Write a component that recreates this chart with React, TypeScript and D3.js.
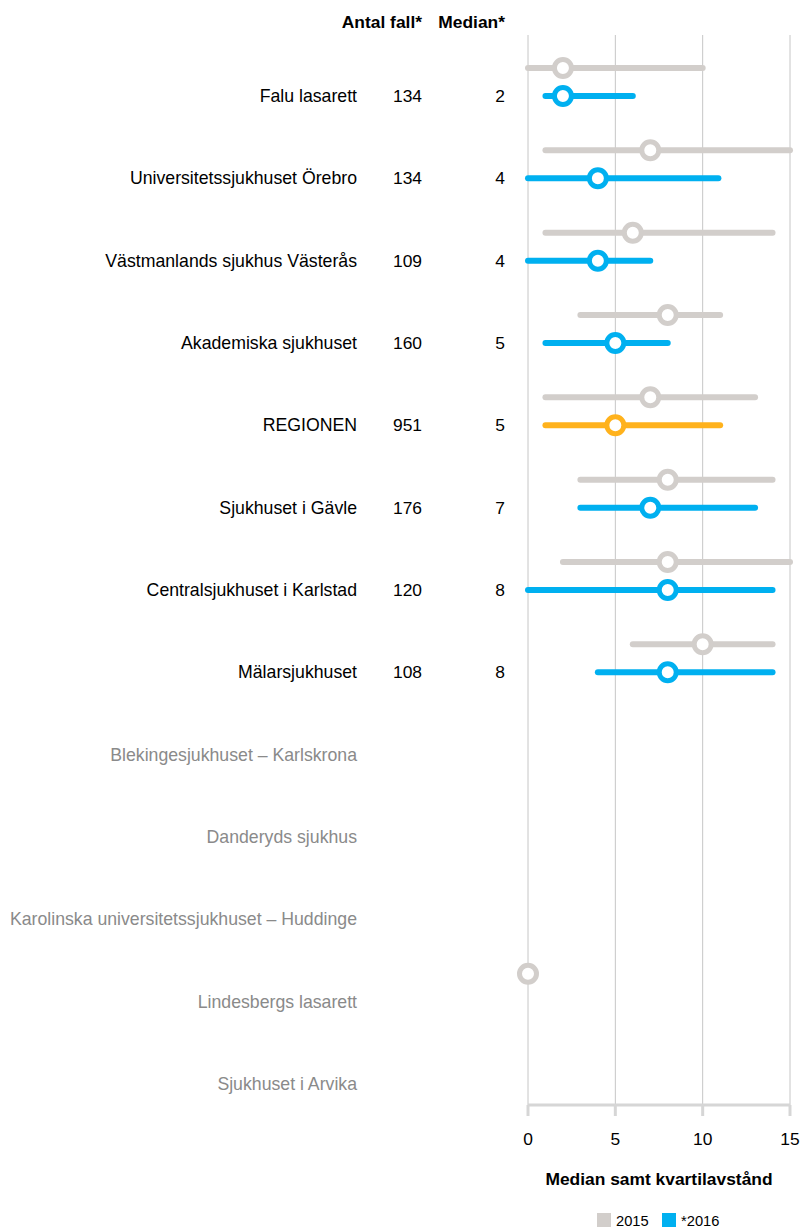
import React from 'react'
import * as d3 from 'd3'

const hospitals = [
  'Falu lasarett',
  'Universitetssjukhuset Örebro',
  'Västmanlands sjukhus Västerås',
  'Akademiska sjukhuset',
  'REGIONEN',
  'Sjukhuset i Gävle',
  'Centralsjukhuset i Karlstad',
  'Mälarsjukhuset',
  'Blekingesjukhuset – Karlskrona',
  'Danderyds sjukhus',
  'Karolinska universitetssjukhuset – Huddinge',
  'Lindesbergs lasarett',
  'Sjukhuset i Arvika',
]
const counts: (number | null)[] = [134, 134, 109, 160, 951, 176, 120, 108, null, null, null, null, null]
const medians: (number | null)[] = [2, 4, 4, 5, 5, 7, 8, 8, null, null, null, null, null]

// [q1, median, q3]
const stats2015: ([number, number, number] | null)[] = [
  [0, 2, 10], [1, 7, 15], [1, 6, 14], [3, 8, 11], [1, 7, 13], [3, 8, 14], [2, 8, 15], [6, 10, 14],
  null, null, null, [0, 0, 0], null,
]
const stats2016: ([number, number, number] | null)[] = [
  [1, 2, 6], [0, 4, 10.9], [0, 4, 7], [1, 5, 8], [1, 5, 11], [3, 7, 13], [0, 8, 14], [4, 8, 14],
  null, null, null, null, null,
]
const xTicks = [0, 5, 10, 15]

const GRAY = '#d2cecb'
const BLUE = '#00b0f0'
const ORANGE = '#ffb21c'
const FONT = 'Liberation Sans, Arial, sans-serif'
const FS = 17.4

export default function App() {
  const width = 803
  const height = 1230
  const x = d3.scaleLinear().domain([0, 15]).range([528, 790])
  const y = d3.scalePoint<string>().domain(hospitals).range([96, 1084])
  const gridTop = 35
  const axisY = 1105
  const offset2015 = -28

  const renderRange = (s: [number, number, number] | null, cy: number, color: string, key: string) => {
    if (!s) return null
    const [q1, med, q3] = s
    return (
      <g key={key}>
        {q3 > q1 && (
          <line x1={x(q1)} x2={x(q3)} y1={cy} y2={cy} stroke={color} strokeWidth={6} strokeLinecap="round" />
        )}
        <circle cx={x(med)} cy={cy} r={8.5} fill="#fff" stroke={color} strokeWidth={5} />
      </g>
    )
  }

  return (
    <svg width={width} height={height} style={{ position: 'absolute', left: 0, top: 0 }} fontFamily={FONT}>
      <rect width={width} height={height} fill="#fff" />
      <text x={422} y={28} textAnchor="end" fontSize={FS} fontWeight="bold" fill="#000">Antal fall*</text>
      <text x={505} y={28} textAnchor="end" fontSize={FS} fontWeight="bold" fill="#000">Median*</text>

      {xTicks.map(t => (
        <line key={'g' + t} x1={x(t)} x2={x(t)} y1={gridTop} y2={axisY} stroke="#c6c6c6" strokeWidth={1} />
      ))}
      <line x1={x(0)} x2={x(15)} y1={axisY} y2={axisY} stroke="#d6d6d6" strokeWidth={3} />
      {xTicks.map(t => (
        <g key={'t' + t}>
          <line x1={x(t)} x2={x(t)} y1={axisY} y2={axisY + 11} stroke="#d6d6d6" strokeWidth={3} />
          <text x={x(t)} y={1145} textAnchor="middle" fontSize={FS} fill="#000">{t}</text>
        </g>
      ))}

      {hospitals.map((h, i) => {
        const cy = y(h)!
        const hasData = counts[i] !== null
        return (
          <g key={h}>
            <text x={357} y={cy + 6} textAnchor="end" fontSize={17.7} fill={hasData ? '#000' : '#8a8a8a'}>{h}</text>
            {hasData && (
              <text x={422} y={cy + 6} textAnchor="end" fontSize={FS} fill="#000">{counts[i]}</text>
            )}
            {medians[i] !== null && (
              <text x={505} y={cy + 6} textAnchor="end" fontSize={FS} fill="#000">{medians[i]}</text>
            )}
            {renderRange(stats2015[i], cy + offset2015, GRAY, 'a')}
            {renderRange(stats2016[i], cy, h === 'REGIONEN' ? ORANGE : BLUE, 'b')}
          </g>
        )
      })}

      <text x={659} y={1185} textAnchor="middle" fontSize={FS} fontWeight="bold" fill="#000">Median samt kvartilavstånd</text>

      <rect x={597} y={1213} width={14} height={14} fill={GRAY} />
      <text x={616} y={1226} fontSize={14.7} fill="#000">2015</text>
      <rect x={662} y={1213} width={14} height={14} fill={BLUE} />
      <text x={681} y={1226} fontSize={14.7} fill="#000">*2016</text>
    </svg>
  )
}
